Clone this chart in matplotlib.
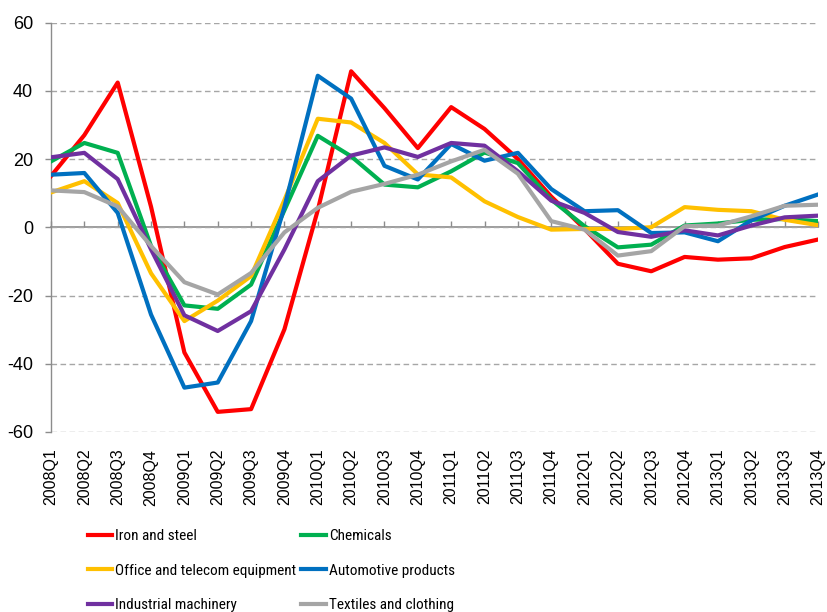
import matplotlib
matplotlib.use("Agg")
import matplotlib.pyplot as plt
from matplotlib import font_manager

# quarters on the x axis
quarters = [f"{y}Q{q}" for y in range(2008, 2014) for q in range(1, 5)]

# year-on-year change, per cent
iron_steel = [15, 27, 42.4, 6, -36.7, -54.1, -53.3, -29.9, 5, 45.7, 34.9, 23.2,
              35.2, 28.8, 20, 9, -0.5, -10.7, -12.9, -8.7, -9.5, -9.1, -5.8, -3.6]
chemicals = [19.3, 24.7, 21.8, -5.5, -22.9, -23.9, -16.8, 5, 26.8, 20.8, 12.5, 11.7,
             16.4, 21.9, 18.8, 8.1, 0.3, -5.9, -5.1, 0.5, 1.1, 2.2, 2.4, 1.8]
office_telecom = [10.2, 13.5, 7.1, -13.5, -27.5, -21.5, -14.3, 8, 31.8, 30.7, 24.7, 15.5,
                  14.6, 7.6, 3, -0.7, -0.5, -0.5, 0, 5.9, 5.1, 4.7, 2.2, 0.6]
automotive = [15.4, 15.9, 4.2, -25.6, -47, -45.5, -27.5, 6, 44.4, 37.7, 18, 14,
              24.4, 19.5, 21.8, 11.2, 4.7, 5, -1.7, -1.5, -4.1, 2, 6.3, 9.6]
machinery = [20.5, 21.8, 14.1, -6.5, -25.8, -30.4, -24.6, -6.5, 13.5, 21, 23.4, 20.6,
             24.7, 23.9, 16.4, 7.8, 4.2, -1.4, -2.8, -0.9, -2.4, 0.5, 2.9, 3.4]
textiles = [10.8, 10.3, 6.1, -5.5, -16.1, -19.7, -13.4, -1.5, 5.7, 10.4, 12.7, 15.4,
            19.3, 22.7, 15.7, 1.8, -0.7, -8.3, -7, 0.3, 0.5, 3.2, 6.3, 6.6]

series = [
    ("Iron and steel", iron_steel, "#FF0000"),
    ("Chemicals", chemicals, "#00B050"),
    ("Office and telecom equipment", office_telecom, "#FFC000"),
    ("Automotive products", automotive, "#0070C0"),
    ("Industrial machinery", machinery, "#7030A0"),
    ("Textiles and clothing", textiles, "#A5A5A5"),
]

# a narrow face for the legend if there is one
installed = {f.name for f in font_manager.fontManager.ttflist}
legend_font = "Liberation Sans"
for cand in ["Liberation Sans Narrow", "Arial Narrow", "Roboto Condensed", "Open Sans Condensed"]:
    if cand in installed:
        legend_font = cand
        break

plt.rcParams["font.family"] = ["Liberation Sans", "DejaVu Sans"]
plt.rcParams["axes.unicode_minus"] = False

grey = "#8C8C8C"

fig = plt.figure(figsize=(8.28, 6.12), dpi=100)
ax = fig.add_axes([51 / 828, 1 - 432 / 612, (818 - 51) / 828, (432 - 22.5) / 612])

x = list(range(len(quarters)))
handles = []
for name, vals, color in series:
    h, = ax.plot(x, vals, color=color, lw=3, label=name, zorder=3)
    handles.append(h)

ax.set_xlim(0, len(quarters) - 1)
ax.set_ylim(-60, 60)
ax.set_yticks(range(-60, 61, 20))
ax.grid(axis="y", color="#A6A6A6", lw=1, linestyle=(0, (4, 2.5)))
ax.set_axisbelow(True)

for s in ["top", "right", "bottom"]:
    ax.spines[s].set_visible(False)
ax.spines["left"].set_color(grey)
ax.spines["left"].set_linewidth(1)
ax.tick_params(axis="y", length=4, width=1, color=grey, pad=9, labelsize=13)

ax.set_xticks(x)
ax.set_xticklabels(quarters, rotation=90, fontsize=11.5)
ax.tick_params(axis="x", length=0, pad=12)

# zero line with category ticks
zero = ax.secondary_xaxis(0.5)
zero.set_xticks(x)
zero.set_xticklabels([])
zero.tick_params(length=4, width=1, color=grey)
for sp in zero.spines.values():
    sp.set_color(grey)
    sp.set_linewidth(1.2)

order = [0, 2, 4, 1, 3, 5]
fig.legend([handles[i] for i in order], [series[i][0] for i in order],
           loc="upper left", bbox_to_anchor=(88 / 828, 1 - 529 / 612),
           ncol=2, frameon=False, borderpad=0, borderaxespad=0,
           handlelength=1.6, handletextpad=0.2, columnspacing=0.3,
           labelspacing=1.35, prop={"family": legend_font, "size": 11})

fig.savefig("out.png", dpi=100)
